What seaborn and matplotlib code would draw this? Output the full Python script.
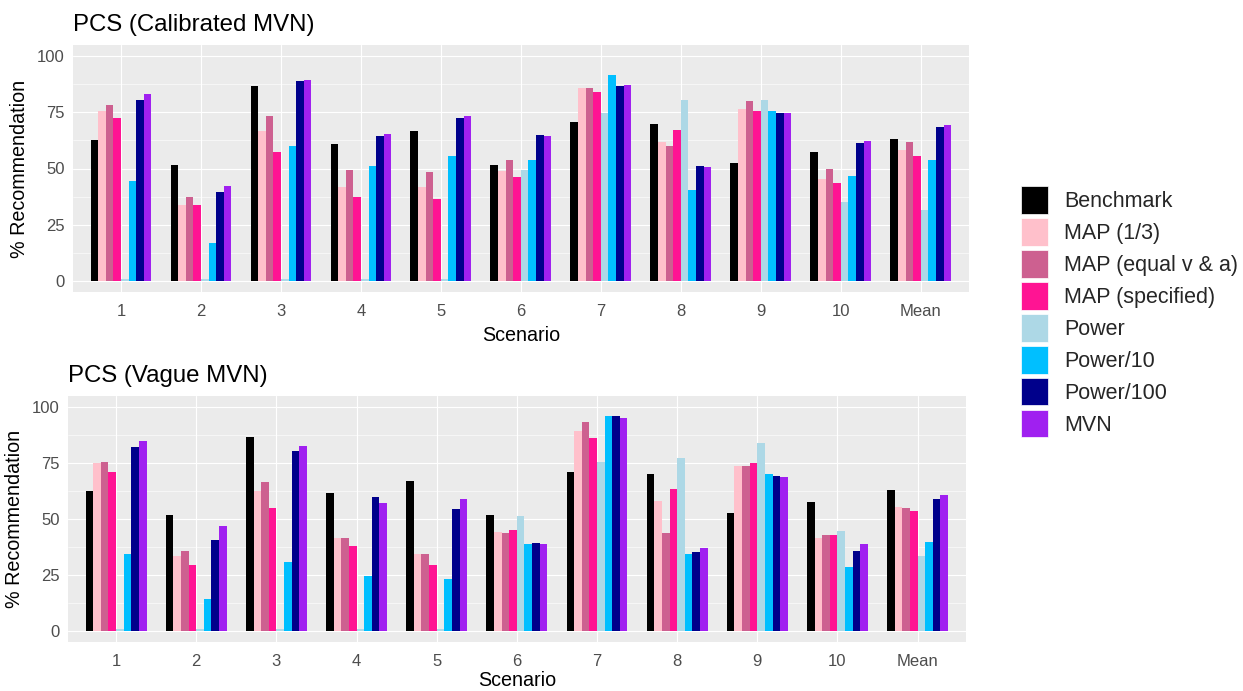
import matplotlib
matplotlib.use("Agg")
import matplotlib.pyplot as plt
import matplotlib.patches as mpatches
import numpy as np
import pandas as pd
import seaborn as sns

scenarios = ["1", "2", "3", "4", "5", "6", "7", "8", "9", "10", "Mean"]
methods = ["Benchmark", "MAP (1/3)", "MAP (equal v & a)", "MAP (specified)",
           "Power", "Power/10", "Power/100", "MVN"]
colors = ["#000000", "#FFC0CB", "#CD6090", "#FF1493",
          "#ADD8E6", "#00BFFF", "#00008B", "#A020F0"]

# PCS (Calibrated MVN)
cal_benchmark = [62.5, 51.6, 86.6, 61.0, 66.7, 51.6, 70.9, 69.9, 52.5, 57.5, 63.0]
cal_map13     = [75.4, 33.9, 66.7, 41.8, 41.8, 49.0, 85.7, 61.6, 76.7, 45.4, 58.1]
cal_mapeq     = [78.1, 37.2, 73.4, 49.4, 48.5, 54.0, 85.7, 59.9, 79.9, 49.9, 61.6]
cal_mapspec   = [72.7, 33.9, 57.5, 37.2, 36.3, 46.3, 83.9, 67.2, 75.8, 43.6, 55.4]
cal_power     = [0.6, 0.6, 0.6, 0.6, 0.6, 49.4, 74.8, 80.3, 80.3, 35.2, 31.6]
cal_power10   = [44.3, 16.7, 59.9, 51.2, 55.4, 54.0, 91.6, 40.3, 75.4, 46.7, 53.6]
cal_power100  = [80.3, 39.4, 89.0, 64.4, 72.7, 64.8, 86.6, 51.2, 74.8, 61.2, 68.5]
cal_mvn       = [83.0, 42.1, 89.4, 65.2, 73.6, 64.3, 87.2, 50.7, 74.8, 62.1, 69.4]

# PCS (Vague MVN)
vag_benchmark = [62.6, 51.7, 86.6, 61.3, 66.8, 51.7, 70.8, 69.9, 52.6, 57.5, 63.0]
vag_map13     = [74.8, 33.5, 62.6, 41.3, 34.0, 44.1, 89.4, 57.7, 73.5, 41.3, 55.3]
vag_mapeq     = [75.4, 35.5, 66.6, 41.3, 34.0, 43.5, 93.4, 43.5, 73.5, 42.6, 54.8]
vag_mapspec   = [70.8, 29.5, 54.8, 37.7, 29.1, 45.0, 86.1, 63.5, 74.8, 42.6, 53.5]
vag_power     = [0.6, 0.6, 0.6, 0.6, 0.6, 51.3, 75.3, 77.2, 83.9, 44.4, 33.1]
vag_power10   = [34.4, 14.2, 30.8, 24.4, 23.2, 38.6, 95.7, 34.4, 69.9, 28.6, 39.5]
vag_power100  = [82.1, 40.4, 80.3, 59.9, 54.4, 39.0, 95.7, 35.0, 69.0, 35.5, 59.0]
vag_mvn       = [84.8, 46.6, 82.6, 57.2, 58.6, 38.6, 95.2, 36.8, 68.6, 38.6, 60.8]

cal_series = [cal_benchmark, cal_map13, cal_mapeq, cal_mapspec,
              cal_power, cal_power10, cal_power100, cal_mvn]
vag_series = [vag_benchmark, vag_map13, vag_mapeq, vag_mapspec,
              vag_power, vag_power10, vag_power100, vag_mvn]


def long_df(series):
    rows = []
    for m, vals in zip(methods, series):
        for s, v in zip(scenarios, vals):
            rows.append({"Scenario": s, "Method": m, "value": v})
    return pd.DataFrame(rows)


sns.set_theme(style="white")
plt.rcParams["font.family"] = ["Liberation Sans", "DejaVu Sans"]

W, H = 1243, 691
fig = plt.figure(figsize=(W / 100, H / 100), dpi=100)


def make_ax(left, right, top, bottom):
    return fig.add_axes([left / W, 1 - bottom / H, (right - left) / W, (bottom - top) / H])


panels = [
    (make_ax(73, 968.7, 45, 292), cal_series, "PCS (Calibrated MVN)", 5),
    (make_ax(68, 965.7, 395.7, 641.7), vag_series, "PCS (Vague MVN)", 1.5),
]

for ax, series, title, xpad in panels:
    df = long_df(series)
    ax.set_facecolor("#EBEBEB")
    ax.set_axisbelow(True)
    sns.barplot(data=df, x="Scenario", y="value", hue="Method",
                order=scenarios, hue_order=methods, palette=colors,
                width=0.76, gap=0, saturation=1, errorbar=None,
                linewidth=0, legend=False, ax=ax)
    ax.set_xlim(-0.6, 10.6)
    ax.set_ylim(-5, 105)
    ax.set_yticks([0, 25, 50, 75, 100])
    ax.set_yticks([12.5, 37.5, 62.5, 87.5], minor=True)
    ax.grid(True, which="major", color="white", linewidth=0.85)
    ax.grid(True, which="minor", axis="y", color="white", linewidth=0.4)
    ax.grid(True, which="major", axis="x", color="white", linewidth=0.85)
    for sp in ax.spines.values():
        sp.set_visible(False)
    ax.tick_params(axis="both", which="major", length=3.5, width=0.8,
                   color="#333333", labelcolor="#4D4D4D", labelsize=12)
    ax.tick_params(axis="x", which="major", pad=5)
    ax.tick_params(axis="y", which="major", pad=2.5)
    ax.tick_params(axis="both", which="minor", length=0)
    ax.set_xlabel("Scenario", fontsize=14.2, color="black", labelpad=xpad)
    ax.set_ylabel("% Recommendation", fontsize=14.2, color="black", labelpad=6)
    ax.set_title(title, loc="left", fontsize=17.3, color="black", pad=10)

handles = [mpatches.Patch(facecolor=c, edgecolor="white", linewidth=0.5, label=m)
           for m, c in zip(methods, colors)]
fig.legend(handles=handles, loc="upper left",
           bbox_to_anchor=(1021 / W, 1 - 186 / H), frameon=False,
           fontsize=15.5, handlelength=1.25, handleheight=1.6,
           labelspacing=0.2, handletextpad=0.75, borderpad=0, borderaxespad=0)

fig.savefig("out.png", dpi=100)
